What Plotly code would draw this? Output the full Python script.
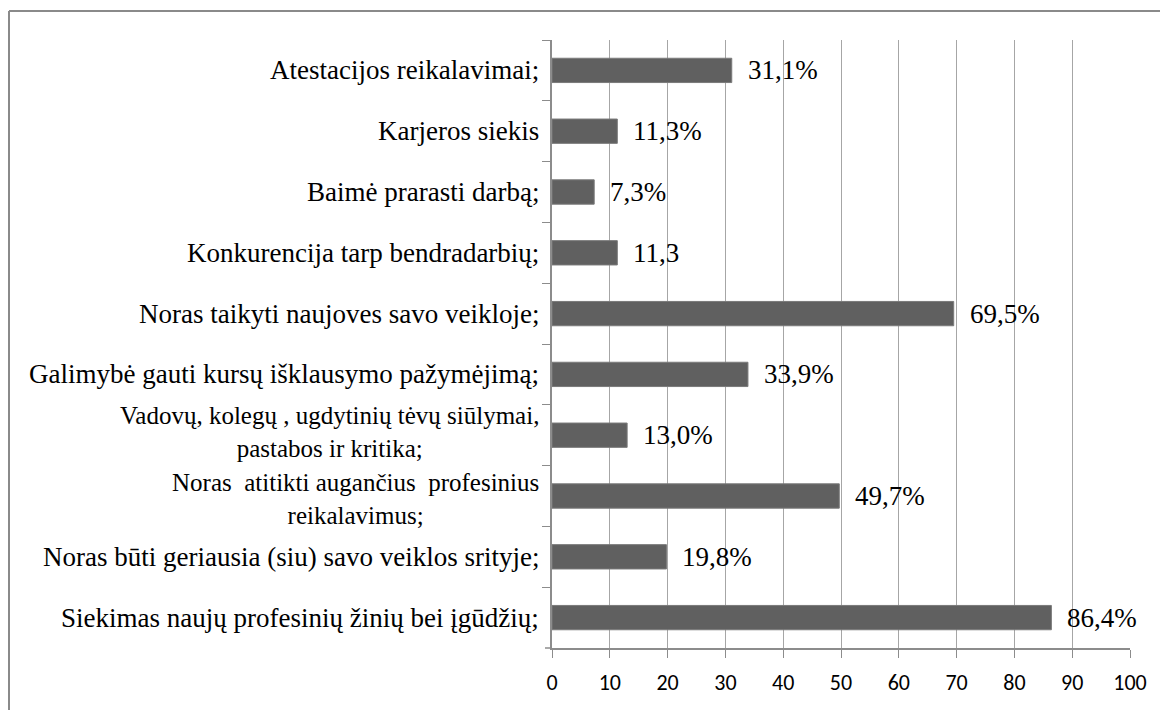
import plotly.graph_objects as go

categories = [
    "Atestacijos reikalavimai;",
    "Karjeros siekis",
    "Baimė prarasti darbą;",
    "Konkurencija tarp bendradarbių;",
    "Noras taikyti naujoves savo veikloje;",
    "Galimybė gauti kursų išklausymo pažymėjimą;",
    "Vadovų, kolegų , ugdytinių tėvų siūlymai,<br>pastabos ir kritika;",
    "Noras  atitikti augančius  profesinius<br>reikalavimus;",
    "Noras būti geriausia (siu) savo veiklos srityje;",
    "Siekimas naujų profesinių žinių bei įgūdžių;",
]
values = [31.1, 11.3, 7.3, 11.3, 69.5, 33.9, 13.0, 49.7, 19.8, 86.4]
value_labels = ["31,1%", "11,3%", "7,3%", "11,3", "69,5%", "33,9%", "13,0%", "49,7%", "19,8%", "86,4%"]
x_ticks = [0, 10, 20, 30, 40, 50, 60, 70, 80, 90, 100]

SERIF = "Times New Roman, Liberation Serif, serif"
SANS = "Carlito, Lato, sans-serif"
GRID = "#a6a6a6"
AXIS = "#8c8c8c"
FS = 27        # single-line labels and value labels
FS_MULTI = 25  # two-line labels (plotly's line spacing is wider than the original's)

ids = list(range(len(categories)))

fig = go.Figure()
fig.add_trace(go.Bar(
    x=values, y=ids, orientation="h",
    marker=dict(color="#606060", line=dict(color="#7a7a7a", width=1)),
    hoverinfo="skip",
))

def is_multi(k):
    return 0 <= k < len(categories) and "<br>" in categories[k]

annotations = []
for i, (cat, v, lab) in enumerate(zip(categories, values, value_labels)):
    multi = is_multi(i)
    shift = 0
    if multi:
        # pull neighbouring two-line labels apart a little
        if is_multi(i + 1):
            shift += 3
        if is_multi(i - 1):
            shift -= 3
    annotations.append(dict(
        x=0, xref="paper", y=i, yref="y", text=cat, showarrow=False,
        xanchor="right", yanchor="middle", align="center", xshift=-11,
        yshift=shift,
        font=dict(family=SERIF, size=FS_MULTI if multi else FS, color="#000000"),
    ))
    annotations.append(dict(
        x=v, xref="x", y=i, yref="y", text=lab, showarrow=False,
        xanchor="left", yanchor="middle", xshift=14,
        font=dict(family=SERIF, size=FS, color="#000000"),
    ))

# page has an 8px body margin; figure coordinates are page coordinates minus 8
W, H = 1160, 702
L, R, T, B = 544, 38, 32, 62
pw, ph = W - L - R, H - T - B

def px_x(px):
    return (px - L) / pw

def px_y(py):
    return (H - B - py) / ph

shapes = [
    dict(type="line", xref="paper", yref="paper", x0=px_x(1), x1=px_x(1), y0=px_y(3), y1=px_y(720),
         line=dict(color="#8a8a8a", width=2)),
    dict(type="line", xref="paper", yref="paper", x0=px_x(1), x1=px_x(1180), y0=px_y(3), y1=px_y(3),
         line=dict(color="#8a8a8a", width=2)),
    # horizontal axis line continues a little left of the vertical axis
    dict(type="line", xref="paper", yref="paper", x0=px_x(537), x1=0, y0=0, y1=0,
         line=dict(color=AXIS, width=1.5)),
]

fig.update_layout(
    width=W, height=H,
    margin=dict(l=L, r=R, t=T, b=B),
    paper_bgcolor="white", plot_bgcolor="white",
    font=dict(family=SERIF),
    showlegend=False,
    bargap=0.6,
    annotations=annotations,
    shapes=shapes,
    xaxis=dict(
        range=[0, 100], tickvals=x_ticks, ticktext=[str(t) for t in x_ticks],
        showgrid=True, gridcolor=GRID, gridwidth=1,
        showline=True, linecolor=AXIS, linewidth=1.5,
        ticks="outside", ticklen=8, tickcolor=AXIS,
        ticklabelstandoff=6,
        tickfont=dict(family=SANS, size=22, color="#000000"),
        zeroline=False, fixedrange=True,
    ),
    yaxis=dict(
        type="category", categoryorder="array", categoryarray=ids,
        autorange="reversed",
        showticklabels=False, showgrid=False, zeroline=False,
        showline=True, linecolor=AXIS, linewidth=1.5,
        ticks="outside", ticklen=8, tickcolor=AXIS, tickson="boundaries",
        fixedrange=True,
    ),
)

fig.write_html("out.html")
